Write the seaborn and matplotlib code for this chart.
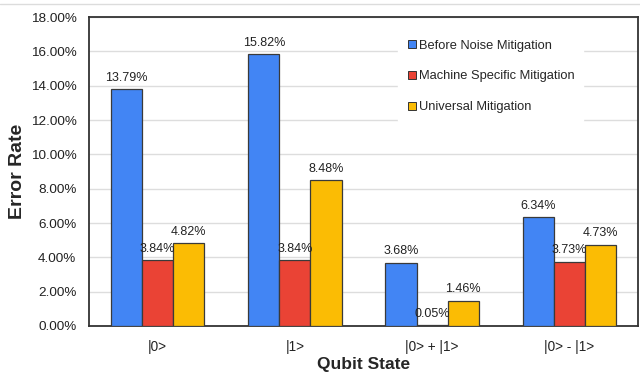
import matplotlib
matplotlib.use("Agg")
import matplotlib.pyplot as plt
import seaborn as sns
import pandas as pd
from matplotlib.lines import Line2D

# Error rates (%) per qubit state for each mitigation approach
states = ["|0>", "|1>", "|0> + |1>", "|0> - |1>"]
before_noise = [13.79, 15.82, 3.68, 6.34]
machine_specific = [3.84, 3.84, 0.05, 3.73]
universal = [4.82, 8.48, 1.46, 4.73]
series_names = ["Before Noise Mitigation", "Machine Specific Mitigation", "Universal Mitigation"]
y_ticks = [0, 2, 4, 6, 8, 10, 12, 14, 16, 18]

colors = ["#4285F4", "#EA4335", "#FBBC04"]

df = pd.DataFrame({
    "Qubit State": states * 3,
    "Error Rate": before_noise + machine_specific + universal,
    "Series": [s for s in series_names for _ in states],
})

sns.set_theme(style="white")
plt.rcParams["font.family"] = ["Liberation Sans", "DejaVu Sans"]

fig = plt.figure(figsize=(6.4, 3.72), dpi=100)
ax = fig.add_axes([89 / 640, 1 - 326 / 372, 549 / 640, 309 / 372])

sns.barplot(data=df, x="Qubit State", y="Error Rate", hue="Series",
            palette=colors, saturation=1, width=0.68,
            edgecolor="#3a3a3a", linewidth=0.9,
            ax=ax, zorder=3, legend=False)

ax.set_xlim(-0.5, 3.5)
ax.set_ylim(0, 18)
ax.set_yticks(y_ticks)
ax.set_yticklabels([f"{v:.2f}%" for v in y_ticks], fontsize=9.7, color="#222222")
ax.tick_params(axis="x", labelsize=9.8, colors="#222222", length=0, pad=10)
ax.tick_params(axis="y", length=0, pad=9)
ax.yaxis.grid(True, color="#dddddd", linewidth=1, zorder=0)
ax.set_axisbelow(True)
for sp in ax.spines.values():
    sp.set_color("#333333")
    sp.set_linewidth(1.3)

ax.set_ylabel("Error Rate", fontsize=14, fontweight="bold", labelpad=3)
ax.set_xlabel("Qubit State", fontsize=12.5, fontweight="bold", labelpad=2)

# value labels above each bar
for cont in ax.containers:
    ax.bar_label(cont, labels=[f"{v:.2f}%" for v in cont.datavalues],
                 fontsize=9, padding=4, color="#222222", zorder=4)

handles = [Line2D([0], [0], marker="s", linestyle="none", markersize=6,
                  markerfacecolor=c, markeredgecolor="#333333", markeredgewidth=0.7)
           for c in colors]
leg = ax.legend(handles, series_names, loc="upper left",
                bbox_to_anchor=(0.563, 0.952), frameon=True, fancybox=False,
                edgecolor="white", facecolor="white", framealpha=1,
                fontsize=9.3, labelspacing=1.45, handletextpad=0.05,
                borderpad=0.6, handlelength=1.0, borderaxespad=0)
leg.set_zorder(5)

# faint rule along the top of the figure
fig.add_artist(Line2D([0, 1], [1 - 4 / 372, 1 - 4 / 372], color="#dcdcdc", linewidth=1,
                      transform=fig.transFigure))

fig.savefig("out.png", dpi=100)
